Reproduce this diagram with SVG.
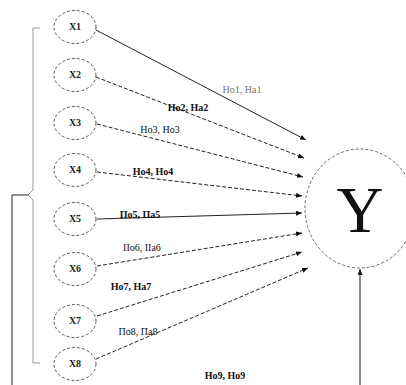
<svg xmlns="http://www.w3.org/2000/svg" width="406" height="385" viewBox="0 0 406 385">
<style>
.node ellipse{fill:#fff;stroke:#444;stroke-width:0.9;stroke-dasharray:3,2}
.nl{font-family:"Liberation Serif",serif;font-size:10px;font-weight:bold;fill:#222;text-anchor:middle}
.c{stroke:#222;stroke-width:1;fill:none}
.d{stroke-dasharray:4,2}
.lb{font-family:"Liberation Serif",serif;font-size:10px;fill:#111;text-anchor:middle}
.br{stroke:#999;stroke-width:1;fill:none}
</style>
<defs>
<marker id="ah" markerWidth="6" markerHeight="5" refX="6" refY="2.5" orient="auto" markerUnits="userSpaceOnUse">
<path d="M0,0 L6,2.5 L0,5 z" fill="#111"/>
</marker>
</defs>
<rect width="406" height="385" fill="#fff"/>
<g id="connectors">
<line class="c" x1="96" y1="30" x2="306" y2="140" marker-end="url(#ah)"/>
<line class="c d" x1="96" y1="77" x2="304" y2="158" marker-end="url(#ah)"/>
<line class="c d" x1="97" y1="124" x2="303" y2="177" marker-end="url(#ah)"/>
<line class="c d" x1="97" y1="172" x2="302" y2="196" marker-end="url(#ah)"/>
<line class="c" x1="97" y1="219" x2="302" y2="213" marker-end="url(#ah)"/>
<line class="c d" x1="97" y1="266" x2="302" y2="233" marker-end="url(#ah)"/>
<line class="c d" x1="97" y1="316" x2="302" y2="252" marker-end="url(#ah)"/>
<line class="c d" x1="96" y1="359" x2="308" y2="268" marker-end="url(#ah)"/>
<path class="br" d="M40,28 L33,28 L33,190 L28,195 L33,200 L33,363 L40,363"/>
<path class="c" stroke="#555" d="M28,195 L12,195 L12,385"/>
<line class="c" x1="360" y1="385" x2="360" y2="269" marker-end="url(#ah)"/>
<text class="lb" x="242" y="93" fill="#777" style="fill:#777">Ho1, Ha1</text>
<text class="lb" x="188" y="111" font-weight="bold">Ho2, Ha2</text>
<text class="lb" x="160" y="133">Ho3, Ho3</text>
<text class="lb" x="153" y="175" font-weight="bold">Ho4, Ho4</text>
<text class="lb" x="140" y="218" font-weight="bold">Пo5, Пa5</text>
<text class="lb" x="142" y="251">IIo6, IIa6</text>
<text class="lb" x="131" y="290" font-weight="bold">Ho7, Ha7</text>
<text class="lb" x="138" y="335">Пo8, Пa8</text>
<text class="lb" x="225" y="379" font-weight="bold">Ho9, Ho9</text>
</g>
<g id="X1" class="node"><ellipse cx="75" cy="27" rx="21" ry="16.5"/><text class="nl" x="75" y="30">X1</text></g>
<g id="X2" class="node"><ellipse cx="75" cy="75" rx="21" ry="16.5"/><text class="nl" x="75" y="78">X2</text></g>
<g id="X3" class="node"><ellipse cx="75" cy="123" rx="21" ry="16.5"/><text class="nl" x="75" y="126">X3</text></g>
<g id="X4" class="node"><ellipse cx="75" cy="170" rx="21" ry="16.5"/><text class="nl" x="75" y="173">X4</text></g>
<g id="X5" class="node"><ellipse cx="75" cy="219" rx="21" ry="16.5"/><text class="nl" x="75" y="222">X5</text></g>
<g id="X6" class="node"><ellipse cx="75" cy="269" rx="21" ry="16.5"/><text class="nl" x="75" y="272">X6</text></g>
<g id="X7" class="node"><ellipse cx="75" cy="321" rx="21" ry="16.5"/><text class="nl" x="75" y="324">X7</text></g>
<g id="X8" class="node"><ellipse cx="75" cy="364" rx="21" ry="16.5"/><text class="nl" x="75" y="367">X8</text></g>
<g id="Y" class="node"><ellipse cx="360" cy="208.5" rx="55" ry="59.5" style="stroke-width:0.8"/><text x="360" y="232" font-family="Liberation Serif, serif" font-size="65" text-anchor="middle" fill="#111">Y</text></g>
</svg>
